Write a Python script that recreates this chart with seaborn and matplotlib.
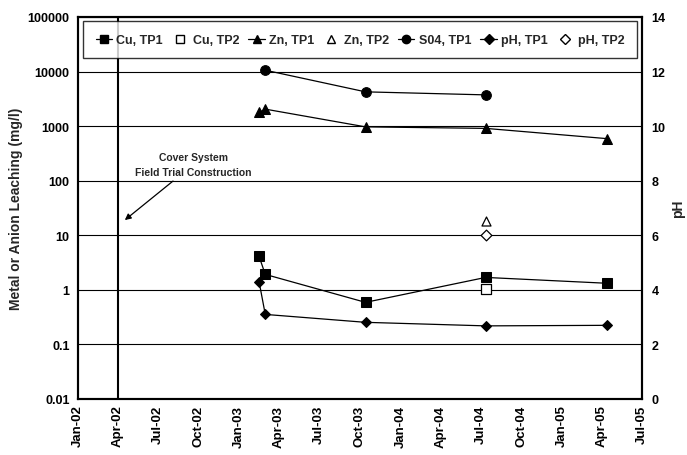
import matplotlib
matplotlib.use("Agg")
import matplotlib.pyplot as plt
import matplotlib.dates as mdates
from matplotlib.lines import Line2D
import seaborn as sns
import pandas as pd

# ---- data ----
dates_tp1 = pd.to_datetime(["2003-02-15", "2003-03-01", "2003-10-14", "2004-07-12", "2005-04-13"])
cu_tp1 = [4.1, 1.92, 0.59, 1.69, 1.32]
zn_tp1 = [1780, 2050, 970, 910, 590]
ph_tp1 = [4.30, 3.10, 2.81, 2.68, 2.70]
dates_so4 = pd.to_datetime(["2003-03-01", "2003-10-14", "2004-07-12"])
so4_tp1 = [10600, 4250, 3740]
dates_tp2 = pd.to_datetime(["2004-07-12"])
cu_tp2 = [1.03]
zn_tp2 = [18.0]
ph_tp2 = [6.0]
construction_date = pd.Timestamp("2002-04-01")
y_ticks = [0.01, 0.1, 1, 10, 100, 1000, 10000, 100000]
y_tick_labels = ["0.01", "0.1", "1", "10", "100", "1000", "10000", "100000"]
ph_ticks = [0, 2, 4, 6, 8, 10, 12, 14]

sns.set_theme(style="white")
plt.rcParams["font.family"] = ["Liberation Sans", "DejaVu Sans"]
plt.rcParams["font.weight"] = "bold"

fig = plt.figure(figsize=(6.87, 4.56), dpi=100)
ax = fig.add_axes([78 / 687, 1 - 400 / 456, (642 - 78) / 687, (400 - 18) / 456])
ax2 = ax.twinx()

lw = 0.9
ms = 6.5
sns.lineplot(x=dates_tp1, y=cu_tp1, ax=ax, color="black", marker="s", markersize=ms,
             linewidth=lw, markeredgecolor="black", zorder=4)
sns.lineplot(x=dates_tp1, y=zn_tp1, ax=ax, color="black", marker="^", markersize=ms + 0.5,
             linewidth=lw, markeredgecolor="black", zorder=4)
sns.lineplot(x=dates_so4, y=so4_tp1, ax=ax, color="black", marker="o", markersize=ms + 0.5,
             linewidth=lw, markeredgecolor="black", zorder=4)
sns.scatterplot(x=dates_tp2, y=cu_tp2, ax=ax, marker="s", s=42, facecolor="white",
                edgecolor="black", linewidth=0.9, zorder=3)
sns.scatterplot(x=dates_tp2, y=zn_tp2, ax=ax, marker="^", s=42, facecolor="white",
                edgecolor="black", linewidth=0.9, zorder=4)

sns.lineplot(x=dates_tp1, y=ph_tp1, ax=ax2, color="black", marker="D", markersize=5.5,
             linewidth=lw, markeredgecolor="black", zorder=4)
sns.scatterplot(x=dates_tp2, y=ph_tp2, ax=ax2, marker="D", s=30, facecolor="white",
                edgecolor="black", linewidth=0.9, zorder=4)

# axes setup
ax.set_yscale("log")
ax.set_ylim(0.01, 100000)
ax.set_yticks(y_ticks)
ax.set_yticklabels(y_tick_labels)
ax.yaxis.set_minor_locator(matplotlib.ticker.NullLocator())
ax2.set_ylim(0, 14)
ax2.set_yticks(ph_ticks)
ax2.set_yticklabels([str(t) for t in ph_ticks])

ax.set_xlim(pd.Timestamp("2002-01-01"), pd.Timestamp("2005-07-01"))
ax.xaxis.set_major_locator(mdates.MonthLocator(bymonth=[1, 4, 7, 10]))
ax.xaxis.set_major_formatter(mdates.DateFormatter("%b-%y"))

ax.yaxis.grid(True, color="black", linewidth=0.8)
ax.xaxis.grid(False)
ax.set_axisbelow(True)
ax.axvline(construction_date, color="black", linewidth=1.5, zorder=2)

ax.tick_params(axis="y", length=0, labelsize=9, pad=6, colors="black")
ax.tick_params(axis="x", length=0, labelsize=9.5, pad=4, colors="black", labelrotation=90)
ax2.tick_params(axis="y", length=0, labelsize=9, pad=7, colors="black")
ax.set_xlabel("")
ax.set_ylabel("Metal or Anion Leaching (mg/l)", fontsize=10, fontweight="bold")
ax.yaxis.set_label_coords(-0.097, 0.5)
ax2.set_ylabel("pH", fontsize=10, fontweight="bold")
ax2.yaxis.set_label_coords(1.052, 0.5)
for a in (ax, ax2):
    for s in a.spines.values():
        s.set_color("black")
        s.set_linewidth(1.5)

ax.annotate("Cover System\nField Trial Construction",
            xy=(pd.Timestamp("2002-04-17"), 19),
            xytext=(pd.Timestamp("2002-09-20"), 200),
            ha="center", va="center", fontsize=7.5, fontweight="bold",
            linespacing=1.6,
            bbox=dict(boxstyle="square,pad=0.25", facecolor="white", edgecolor="none"),
            arrowprops=dict(arrowstyle="-|>", color="black", lw=0.9, mutation_scale=9,
                            shrinkA=2, shrinkB=0),
            zorder=6)

handles = [
    Line2D([], [], color="black", marker="s", markersize=6, lw=lw, label="Cu, TP1"),
    Line2D([], [], color="black", marker="s", markersize=6, lw=0, mfc="white", label="Cu, TP2"),
    Line2D([], [], color="black", marker="^", markersize=6, lw=lw, label="Zn, TP1"),
    Line2D([], [], color="black", marker="^", markersize=6, lw=0, mfc="white", label="Zn, TP2"),
    Line2D([], [], color="black", marker="o", markersize=6, lw=lw, label="S04, TP1"),
    Line2D([], [], color="black", marker="D", markersize=5, lw=lw, label="pH, TP1"),
    Line2D([], [], color="black", marker="D", markersize=5, lw=0, mfc="white", label="pH, TP2"),
]
leg = ax2.legend(handles=handles, loc="upper left", ncol=7, mode="expand",
                 bbox_to_anchor=(0.005, 0.995, 0.99, 0), fontsize=9, frameon=True,
                 fancybox=False, edgecolor="black", handlelength=1.3, handletextpad=0.35,
                 columnspacing=0.8, borderpad=1.0, borderaxespad=0.2)
leg.get_frame().set_linewidth(1.0)
for t in leg.get_texts():
    t.set_fontweight("bold")

fig.savefig("out.png", dpi=100)
